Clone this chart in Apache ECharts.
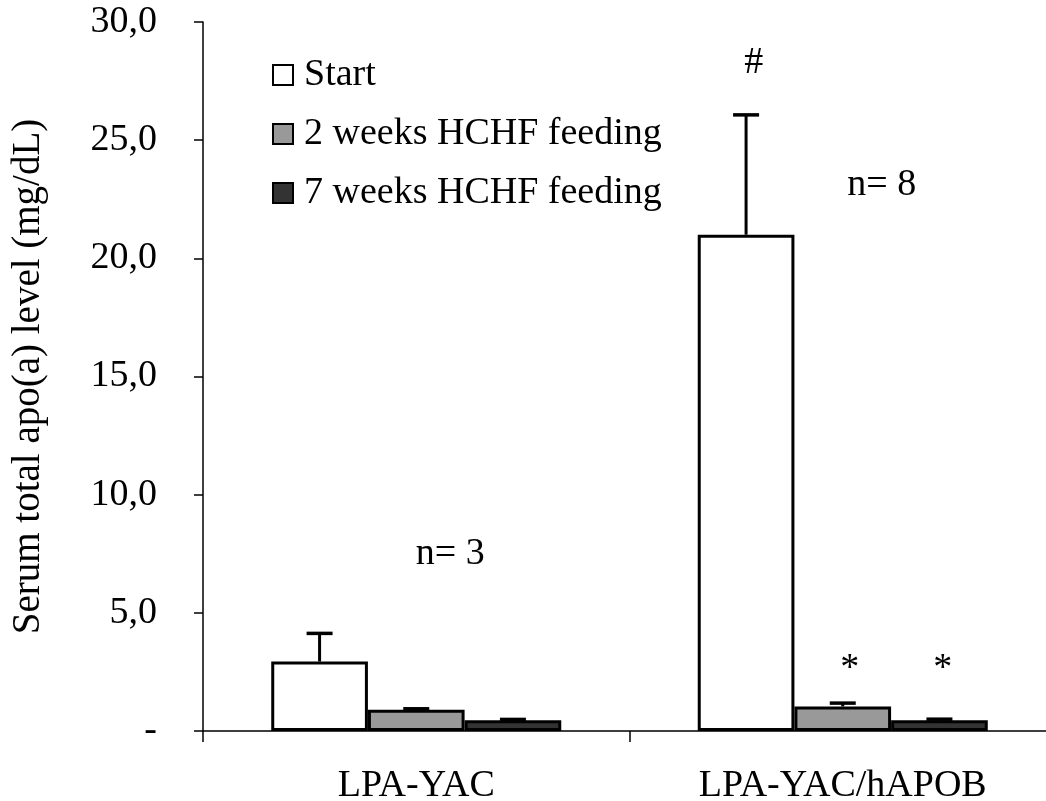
<!DOCTYPE html>
<html>
<head>
<meta charset="utf-8">
<script src="https://cdn.jsdelivr.net/npm/echarts@6/dist/echarts.min.js"></script>
<style>
html,body{margin:0;padding:0;background:#fff;overflow:hidden;}
#c{width:1056px;height:801px;}
</style>
</head>
<body>
<div id="c"></div>
<script>
const categories = ['LPA-YAC', 'LPA-YAC/hAPOB'];
const seriesNames = ['Start', '2 weeks HCHF feeding', '7 weeks HCHF feeding'];
const startVals = [2.94, 21.0];
const week2Vals = [0.90, 1.04];
const week7Vals = [0.46, 0.46];
const startErr = [1.19, 5.07];
const week2Err = [0.04, 0.14];
const week7Err = [0.03, 0.04];
const yTicks = [0, 5, 10, 15, 20, 25, 30];

const FONT = 'Liberation Serif';
const FS = 38;
const colors = ['#ffffff', '#999999', '#333333'];
const values = [startVals, week2Vals, week7Vals];
const errs = [startErr, week2Err, week7Err];
const GROUP = 0.68;

const chart = echarts.init(document.getElementById('c'), null, {renderer: 'canvas'});

const barSeries = values.map((v, i) => ({
  name: seriesNames[i],
  type: 'bar',
  data: v,
  barGap: '0%',
  barCategoryGap: '32%',
  itemStyle: {color: colors[i], borderColor: '#000', borderWidth: 3},
  emphasis: {disabled: true},
  z: 2
}));

const errSeries = values.map((v, i) => ({
  type: 'custom',
  name: 'err' + i,
  data: v.map((val, k) => [k, val, val + errs[i][k]]),
  z: 1,
  renderItem: function (params, api) {
    const k = api.value(0);
    const base = api.coord([k, api.value(1)]);
    const top = api.coord([k, api.value(2)]);
    const catW = api.size([1, 0])[0];
    const bw = catW * GROUP / 3;
    const x = base[0] + (i - 1) * bw;
    const cap = 13;
    return {
      type: 'group',
      children: [
        {type: 'line', shape: {x1: x, y1: base[1], x2: x, y2: top[1]}, style: {stroke: '#000', lineWidth: 3}},
        {type: 'line', shape: {x1: x - cap, y1: top[1], x2: x + cap, y2: top[1]}, style: {stroke: '#000', lineWidth: 3.5}}
      ]
    };
  }
}));

const option = {
  animation: false,
  backgroundColor: '#fff',
  grid: {left: 203, right: 0, top: 22, bottom: 70, outerBoundsMode: 'none', containLabel: false},
  legend: {
    data: seriesNames,
    orient: 'vertical',
    left: 267,
    top: 51,
    itemGap: 21,
    itemWidth: 20,
    itemHeight: 20,
    icon: 'rect',
    textStyle: {fontFamily: FONT, fontSize: FS, color: '#000', padding: [0, 0, 0, 6]},
    selectedMode: false
  },
  xAxis: {
    type: 'category',
    data: categories,
    axisLine: {lineStyle: {color: '#000', width: 1.5}},
    axisTick: {show: true, length: 11, lineStyle: {color: '#000', width: 1.5}},
    axisLabel: {fontFamily: FONT, fontSize: FS, color: '#000', margin: 36},
    splitLine: {show: false}
  },
  yAxis: {
    type: 'value',
    min: 0, max: 30, interval: 5,
    name: 'Serum total apo(a) level (mg/dL)',
    nameLocation: 'middle',
    nameGap: 155,
    nameTextStyle: {fontFamily: FONT, fontSize: 39, color: '#000'},
    axisLine: {show: true, lineStyle: {color: '#000', width: 1.5}},
    axisTick: {show: true, length: 9, lineStyle: {color: '#000', width: 1.5}},
    axisLabel: {
      fontFamily: FONT, fontSize: FS, color: '#000', margin: 46,
      formatter: function (v) { return yTicks.indexOf(v) === 0 ? '-' : v.toFixed(1).replace('.', ','); }
    },
    splitLine: {show: false}
  },
  series: barSeries.concat(errSeries)
};
chart.setOption(option);

function place(cat, val, dx) {
  const p = chart.convertToPixel({xAxisIndex: 0, yAxisIndex: 0}, [cat, val]);
  return [p[0] + dx, p[1]];
}
const ann = [
  {text: 'n= 3', at: place(0, 7.5, 34)},
  {text: 'n= 8', at: place(1, 23.1, 39)},
  {text: '#', at: place(1, 28.27, -89)},
  {text: '*', at: place(1, 2.62, 7)},
  {text: '*', at: place(1, 2.62, 100)}
];
chart.setOption({
  graphic: ann.map(a => ({
    type: 'text',
    x: a.at[0], y: a.at[1],
    style: {text: a.text, fontFamily: FONT, fontSize: FS, fill: '#000', align: 'center', verticalAlign: 'middle'}
  }))
});
</script>
</body>
</html>
